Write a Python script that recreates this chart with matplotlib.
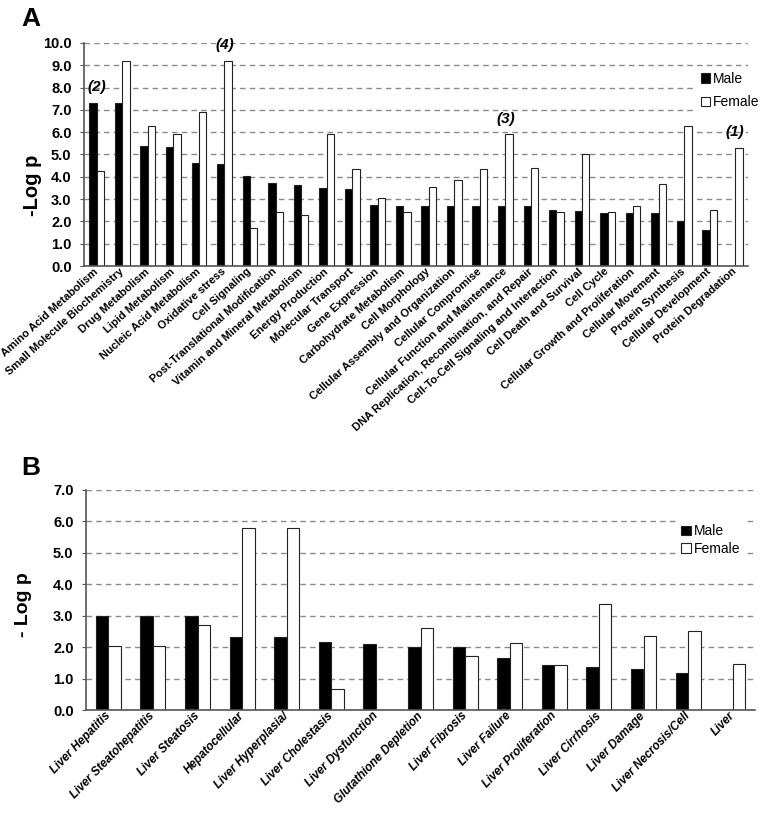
import numpy as np
import matplotlib
matplotlib.use('Agg')
import matplotlib.pyplot as plt

plt.rcParams['font.family'] = ['Liberation Sans', 'DejaVu Sans']

# ---- Panel A data ----
cats_a = ["Amino Acid Metabolism", "Small Molecule Biochemistry", "Drug Metabolism",
          "Lipid Metabolism", "Nucleic Acid Metabolism", "Oxidative stress",
          "Cell Signaling", "Post-Translational Modification",
          "Vitamin and Mineral Metabolism", "Energy Production", "Molecular Transport",
          "Gene Expression", "Carbohydrate Metabolism", "Cell Morphology",
          "Cellular Assembly and Organization", "Cellular Compromise",
          "Cellular Function and Maintenance",
          "DNA Replication, Recombination, and Repair",
          "Cell-To-Cell Signaling and Interaction", "Cell Death and Survival",
          "Cell Cycle", "Cellular Growth and Proliferation", "Cellular Movement",
          "Protein Synthesis", "Cellular Development", "Protein Degradation"]
male_a = [7.30, 7.30, 5.37, 5.34, 4.60, 4.57, 4.04, 3.70, 3.63, 3.52, 3.45,
          2.72, 2.69, 2.69, 2.69, 2.69, 2.69, 2.69, 2.49, 2.45, 2.39, 2.39,
          2.39, 2.00, 1.61, 0.0]
female_a = [4.28, 9.21, 6.30, 5.91, 6.90, 9.21, 1.72, 2.42, 2.27, 5.93, 4.33,
            3.05, 2.42, 3.55, 3.84, 4.33, 5.93, 4.40, 2.42, 5.04, 2.42, 2.70,
            3.66, 6.30, 2.52, 5.31]
notes_a = {"Amino Acid Metabolism": ("(2)", 7.7),
           "Oxidative stress": ("(4)", 9.6),
           "Cellular Function and Maintenance": ("(3)", 6.3),
           "Protein Degradation": ("(1)", 5.7)}

# ---- Panel B data ----
cats_b = ["Liver Hepatitis", "Liver Steatohepatitis", "Liver Steatosis",
          "Hepatocellular", "Liver Hyperplasia/", "Liver Cholestasis",
          "Liver Dysfunction", "Glutathione Depletion", "Liver Fibrosis",
          "Liver Failure", "Liver Proliferation", "Liver Cirrhosis",
          "Liver Damage", "Liver Necrosis/Cell", "Liver"]
male_b = [2.97, 2.97, 2.97, 2.31, 2.31, 2.16, 2.08, 2.00, 2.00, 1.64, 1.44,
          1.37, 1.31, 1.17, 0.0]
female_b = [2.02, 2.02, 2.70, 5.79, 5.79, 0.68, 0.0, 2.60, 1.71, 2.14, 1.42,
            3.38, 2.36, 2.50, 1.46]

W, H = 763, 813
fig = plt.figure(figsize=(W / 100, H / 100), dpi=100)


def px_axes(left, right, top, bottom):
    return fig.add_axes([left / W, 1 - bottom / H, (right - left) / W, (bottom - top) / H])


def style_axes(ax, ymax):
    ax.set_ylim(0, ymax)
    ax.set_yticks(np.arange(0, ymax + 0.01, 1.0))
    ax.set_yticklabels([f"{v:.1f}" for v in np.arange(0, ymax + 0.01, 1.0)],
                       fontweight='bold', fontsize=10.5)
    ax.yaxis.grid(True, color='#8a8a8a', linestyle=(0, (4, 3)), linewidth=1)
    ax.set_axisbelow(True)
    for s in ['top', 'right']:
        ax.spines[s].set_visible(False)
    for s in ['left', 'bottom']:
        ax.spines[s].set_color('#555555')
        ax.spines[s].set_linewidth(1.2)
    ax.tick_params(axis='y', length=3, color='#555555', pad=6)
    ax.tick_params(axis='x', length=0, pad=3)


def draw_bars(ax, cats, male, female, bw):
    x = np.arange(len(cats)) + 0.5
    ax.bar(x - bw / 2, male, bw, color='black', edgecolor='#222222', linewidth=0.8,
           label='Male')
    ax.bar(x + bw / 2, female, bw, color='white', edgecolor='#222222', linewidth=0.8,
           label='Female')
    ax.set_xlim(0, len(cats))
    ax.set_xticks(x)
    return x


def white_legend(ax, anchor, spacing):
    leg = ax.legend(loc='center left', bbox_to_anchor=anchor, fontsize=10,
                    handlelength=0.7, handleheight=0.7, handletextpad=0.2,
                    labelspacing=spacing, borderpad=0.3, frameon=True, fancybox=False)
    leg.get_frame().set_facecolor('white')
    leg.get_frame().set_edgecolor('none')
    leg.get_frame().set_alpha(1)
    return leg


# ---- Panel A ----
axA = px_axes(84, 748, 43, 266)
style_axes(axA, 10)
xa = draw_bars(axA, cats_a, male_a, female_a, 0.29)
axA.set_xticklabels(cats_a, rotation=42, ha='right', va='center',
                    rotation_mode='anchor', fontweight='bold', fontsize=8)
axA.set_ylabel('-Log p', fontsize=14.5, fontweight='bold')
axA.yaxis.set_label_coords(-0.064, 0.36)
for i, c in enumerate(cats_a):
    if c in notes_a:
        txt, yv = notes_a[c]
        axA.text(xa[i], yv, txt, ha='center', va='bottom', fontsize=11,
                 fontweight='bold', fontstyle='italic')
white_legend(axA, (0.912, 0.787), 0.7)

# ---- Panel B ----
axB = px_axes(86, 755, 489.5, 710)
style_axes(axB, 7)
draw_bars(axB, cats_b, male_b, female_b, 0.28)
axB.set_xticklabels(cats_b, rotation=46, ha='right', va='center',
                    rotation_mode='anchor', fontweight='bold', fontstyle='italic',
                    fontsize=8.5)
axB.set_ylabel('- Log p', fontsize=14, fontweight='bold')
axB.yaxis.set_label_coords(-0.081, 0.48)
white_legend(axB, (0.873, 0.77), 0.25)

fig.text(21 / W, 1 - 7 / H, 'A', fontsize=19, fontweight='bold', va='top', ha='left')
fig.text(21 / W, 1 - 456 / H, 'B', fontsize=19, fontweight='bold', va='top', ha='left')

fig.savefig('out.png', dpi=100)
